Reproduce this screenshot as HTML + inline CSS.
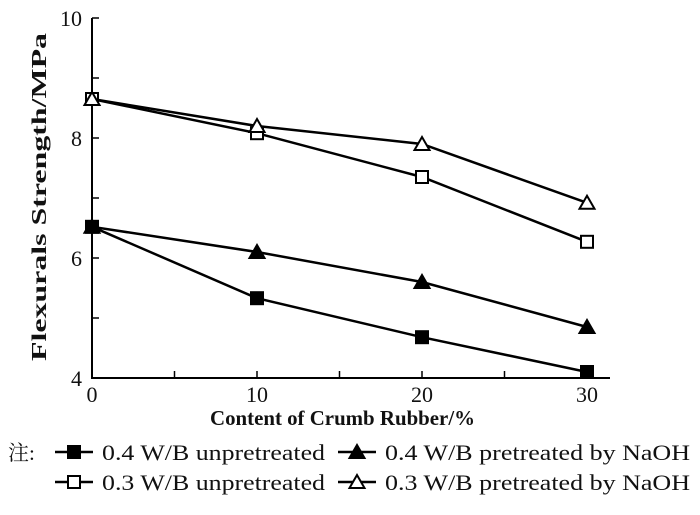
<!DOCTYPE html>
<html><head><meta charset="utf-8"><style>
body{margin:0;background:#fff;width:700px;height:510px;overflow:hidden}
</style></head><body>
<svg width="700" height="510" id="c">
</svg>
<script>
const categories=[0,10,20,30];
const s04un=[6.52,5.33,4.68,4.1];
const s04na=[6.52,6.1,5.6,4.85];
const s03un=[8.65,8.08,7.35,6.27];
const s03na=[8.65,8.2,7.9,6.92];
const yTicks=[4,6,8,10];
const xTicks=[0,10,20,30];
const NS='http://www.w3.org/2000/svg';
const svg=document.getElementById('c');
const FF='"Liberation Serif","Noto Serif CJK SC",serif';
const X=v=>92+v*16.5, Y=v=>378-(v-4)*60;
function el(t,a,p){const e=document.createElementNS(NS,t);for(const k in a)e.setAttribute(k,a[k]);if(t==='text'){e.style.fontFamily=FF;e.style.fill='#111';}(p||svg).appendChild(e);return e;}
let ax=el('path',{d:`M92 18V378H610`,stroke:'#000','stroke-width':2,fill:'none'});


for(let v=5;v<=30;v+=5){let t=el('line',{x1:X(v),x2:X(v),y1:378,y2:371,stroke:'#000','stroke-width':1.5});}
for(let v=5;v<=10;v++){let t=el('line',{x1:92,x2:99,y1:Y(v),y2:Y(v),stroke:'#000','stroke-width':1.5});}
yTicks.forEach(v=>{let t=el('text',{x:82,y:Y(v)+8,'text-anchor':'end','font-size':22});t.textContent=v;});
xTicks.forEach(v=>{let t=el('text',{x:X(v),y:402,'text-anchor':'middle','font-size':22});t.textContent=v;});
let xt=el('text',{x:210,y:425,'font-size':21,'font-weight':'bold',textLength:265,lengthAdjust:'spacingAndGlyphs'});xt.textContent='Content of Crumb Rubber/%';

let yt=el('text',{x:0,y:0,'font-size':21,'font-weight':'bold',textLength:328,lengthAdjust:'spacingAndGlyphs',transform:'translate(46,361) rotate(-90)'});yt.textContent='Flexurals Strength/MPa';

function marker(g,x,y,type,fill){
 if(type==='sq')el('rect',{x:x-6,y:y-6,width:12,height:12,fill:fill,stroke:'#000','stroke-width':2},g);
 else el('polygon',{points:`${x},${y-7} ${x-7.5},${y+6} ${x+7.5},${y+6}`,fill:fill,stroke:'#000','stroke-width':2},g);
}
function series(vals,type,fill,name){
 const g=el('g',{});
 
 
 el('polyline',{points:vals.map((v,i)=>X(categories[i])+','+Y(v)).join(' '),fill:'none',stroke:'#000','stroke-width':2.5},g);
 vals.forEach((v,i)=>marker(g,X(categories[i]),Y(v),type,fill));
}
series(s04un,'sq','#000','series-04-unpretreated');
series(s04na,'tri','#000','series-04-naoh');
series(s03un,'sq','#fff','series-03-unpretreated');
series(s03na,'tri','#fff','series-03-naoh');
function legend(x,y,type,fill,label,len,name){
 const g=el('g',{});
 
 
 el('line',{x1:x,x2:x+38,y1:y,y2:y,stroke:'#000','stroke-width':2.5},g);
 marker(g,x+19,y,type,fill);
 let t=el('text',{x:x+47,y:y+8,'font-size':22,textLength:len,lengthAdjust:'spacingAndGlyphs'},g);t.textContent=label;
}
let zt=el('text',{x:8,y:460,'font-size':21});zt.textContent='注:';

legend(55,452,'sq','#000','0.4 W/B unpretreated',223,'legend-04-unpretreated');
legend(338,452,'tri','#000','0.4 W/B pretreated by NaOH',305,'legend-04-naoh');
legend(55,482,'sq','#fff','0.3 W/B unpretreated',223,'legend-03-unpretreated');
legend(338,482,'tri','#fff','0.3 W/B pretreated by NaOH',305,'legend-03-naoh');
</script>
</body></html>
